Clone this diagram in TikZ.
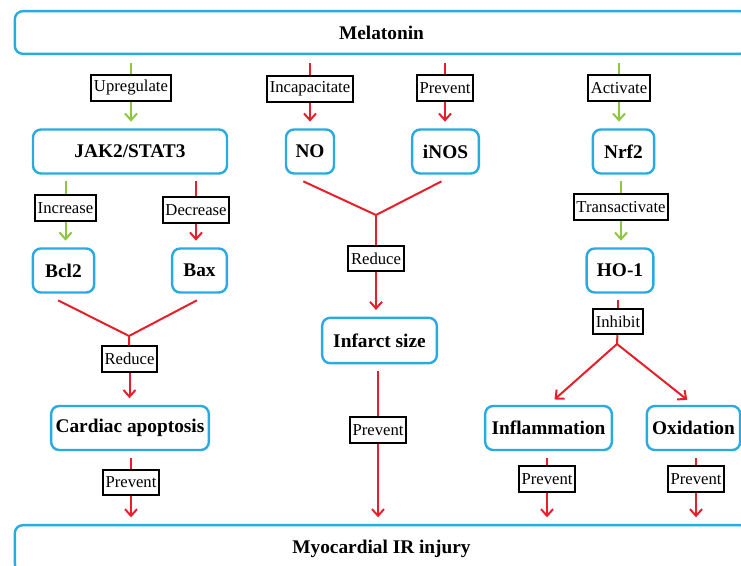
\documentclass[tikz,border=0pt]{standalone}
\usepackage{fontspec}
\setmainfont{Liberation Serif}
\usetikzlibrary{arrows.meta}
\definecolor{boxblue}{RGB}{41,171,226}
\definecolor{linered}{RGB}{232,30,42}
\definecolor{linegreen}{RGB}{141,198,63}
\tikzstyle{item} = [
    rectangle,
    rounded corners=6pt,
    minimum height=33pt,
    draw=boxblue,
    line width=1.8pt,
    fill=white,
    font=\fontsize{14.5}{16}\selectfont\bfseries
]
\tikzstyle{verb} = [
    rectangle,
    inner sep=2pt,
    minimum height=19pt,
    draw=black,
    line width=1.6pt,
    fill=white,
    font=\fontsize{12.5}{14}\selectfont
]
\tikzstyle{rline} = [draw=linered, line width=1.5pt]
\tikzstyle{gline} = [draw=linegreen, line width=1.5pt]
\tikzstyle{rarrow} = [rline, -{Straight Barb[length=5pt,width=9pt]}, shorten >=5pt]
\tikzstyle{garrow} = [gline, -{Straight Barb[length=5pt,width=9pt]}, shorten >=5pt]
\begin{document}
\begin{tikzpicture}[x=0.75pt, y=-0.75pt]
\useasboundingbox (0,0) rectangle (741,566);

\node (mel) [item, minimum width=550pt, minimum height=32pt] at (381.5,32.5) {Melatonin};
\node (inj) [item, minimum width=550pt, minimum height=35pt] at (381.5,548.5) {Myocardial IR injury};

% first row
\node (up) [verb] at (131,88) {Upregulate};
\node (inc) [verb] at (310,89) {Incapacitate};
\node (prv1) [verb] at (445,88) {Prevent};
\node (act) [verb] at (619,88) {Activate};

\node (jak) [item, minimum width=145.5pt] at (130,151.5) {JAK2/STAT3};
\node (no) [item, minimum width=36pt] at (310,151.5) {NO};
\node (inos) [item, minimum width=50pt] at (445.5,151.5) {iNOS};
\node (nrf) [item, minimum width=46pt] at (623.5,151.5) {Nrf2};

\draw [gline, shorten >=6pt] (up) -- (up |- mel.south);
\draw [garrow] (up) -- (up |- jak.north);
\draw [rline, shorten >=6pt] (inc) -- (inc |- mel.south);
\draw [rarrow] (inc) -- (inc |- no.north);
\draw [rline, shorten >=6pt] (prv1) -- (prv1 |- mel.south);
\draw [rarrow] (prv1) -- (prv1 |- inos.north);
\draw [gline, shorten >=6pt] (act) -- (act |- mel.south);
\draw [garrow] (act) -- (act |- nrf.north);

% left column
\node (incr) [verb] at (65.5,208) {Increase};
\node (decr) [verb] at (196,210) {Decrease};
\node (bcl) [item, minimum width=46pt] at (63.5,270.5) {Bcl2};
\node (bax) [item, minimum width=41pt] at (199.5,270.5) {Bax};
\coordinate (jl) at (129,336);
\node (red1) [verb] at (129.5,359) {Reduce};
\node (cap) [item, minimum width=117pt] at (130,428) {Cardiac apoptosis};
\node (pv1) [verb] at (131,482.5) {Prevent};

\draw [gline, shorten >=5pt] (incr) -- (incr |- jak.south);
\draw [garrow] (incr) -- (incr |- bcl.north);
\draw [rline, shorten >=5pt] (decr) -- (decr |- jak.south);
\draw [rarrow] (decr) -- (decr |- bax.north);
\draw [rline] ([xshift=-4pt,yshift=-5pt]bcl.south) -- (jl) -- ([xshift=-2pt,yshift=-5pt]bax.south);
\draw [rline] (jl) -- (red1);
\draw [rarrow] (red1) -- (red1 |- cap.north);
\draw [rline, shorten >=5pt] (pv1) -- (pv1 |- cap.south);
\draw [rarrow] (pv1) -- (pv1 |- inj.north);

% middle column
\coordinate (jm) at (376,215);
\node (red2) [verb] at (376,258.5) {Reduce};
\node (inf) [item, minimum width=86pt, minimum height=34pt] at (379.5,340.5) {Infarct size};
\node (pv2) [verb] at (378,430) {Prevent};

\draw [rline] ([xshift=-5pt,yshift=-5pt]no.south) -- (jm) -- ([xshift=-3pt,yshift=-5pt]inos.south);
\draw [rline] (jm) -- (red2);
\draw [rarrow] (red2) -- (red2 |- inf.north);
\draw [rline, shorten >=5pt] (pv2) -- (pv2 |- inf.south);
\draw [rarrow] (pv2) -- (pv2 |- inj.north);

% right column
\node (trans) [verb] at (621,207) {Transactivate};
\node (ho) [item, minimum width=50pt] at (620,270.5) {HO-1};
\node (inh) [verb] at (618,321.5) {Inhibit};
\coordinate (jr) at (617,344);
\node (infl) [item, minimum width=95pt] at (548.5,428) {Inflammation};
\node (ox) [item, minimum width=70pt] at (693.5,428) {Oxidation};
\node (pv3) [verb] at (547,479) {Prevent};
\node (pv4) [verb] at (696,479) {Prevent};

\draw [gline, shorten >=5pt] (trans) -- (trans |- nrf.south);
\draw [garrow] (trans) -- (trans |- ho.north);
\draw [rline, shorten >=5pt] (inh) -- (inh |- ho.south);
\draw [rline] (inh) -- (jr);
\draw [rarrow, shorten >=6pt] (jr) -- (infl.north);
\draw [rarrow, shorten >=6pt] (jr) -- (ox.north);
\draw [rline, shorten >=5pt] (pv3) -- (pv3 |- infl.south);
\draw [rarrow] (pv3) -- (pv3 |- inj.north);
\draw [rline, shorten >=5pt] (pv4) -- (pv4 |- ox.south);
\draw [rarrow] (pv4) -- (pv4 |- inj.north);

\end{tikzpicture}
\end{document}
